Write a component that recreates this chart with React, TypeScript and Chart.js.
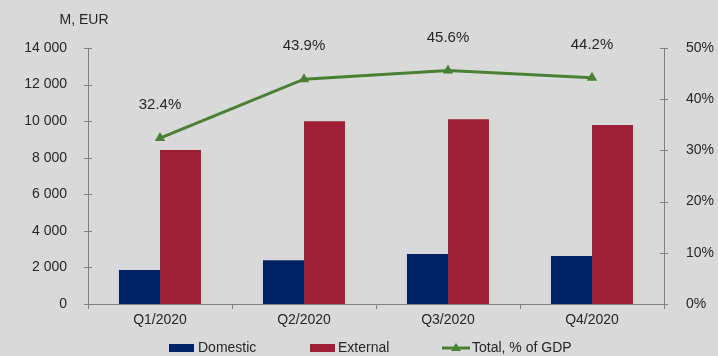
import React, { useEffect, useRef } from "react";
import { Chart, registerables } from "chart.js";

Chart.register(...registerables);

const categories = ["Q1/2020", "Q2/2020", "Q3/2020", "Q4/2020"];
const domestic = [1860, 2390, 2730, 2620];
const external = [8420, 10000, 10110, 9790];
const totalPctGdp = [32.4, 43.9, 45.6, 44.2];
const leftTicks = [0, 2000, 4000, 6000, 8000, 10000, 12000, 14000];
const rightTicks = [0, 10, 20, 30, 40, 50];

const FONT = "'Liberation Sans', Arial, sans-serif";
const TEXT = "#262626";
const AXIS = "#808080";
const NAVY = "#022266";
const CRIMSON = "#9d2036";
const GREEN = "#4a8033";

const fmt = (v: number) => String(v).replace(/\B(?=(\d{3})+(?!\d))/g, " ");

const extras = {
  id: "extras",
  afterDraw(chart: any) {
    const ctx = chart.ctx;
    const y = chart.scales.y;
    const y1 = chart.scales.y1;
    ctx.save();
    ctx.strokeStyle = AXIS;
    ctx.lineWidth = 1;
    for (const v of leftTicks) {
      const py = Math.round(y.getPixelForValue(v)) + 0.5;
      ctx.beginPath();
      ctx.moveTo(y.right - 4, py);
      ctx.lineTo(y.right + 4, py);
      ctx.stroke();
    }
    for (const v of rightTicks) {
      const py = Math.round(y1.getPixelForValue(v)) + 0.5;
      ctx.beginPath();
      ctx.moveTo(y1.left - 4, py);
      ctx.lineTo(y1.left + 4, py);
      ctx.stroke();
    }
    ctx.fillStyle = TEXT;
    ctx.font = `14px ${FONT}`;
    ctx.textAlign = "center";
    ctx.textBaseline = "middle";
    ctx.fillText("M, EUR", 84, 20);
    const meta = chart.getDatasetMeta(2);
    ctx.font = `15px ${FONT}`;
    meta.data.forEach((pt: any, i: number) => {
      ctx.fillText(totalPctGdp[i].toFixed(1) + "%", pt.x, pt.y - 33);
    });
    const ly = 348;
    ctx.font = `14px ${FONT}`;
    ctx.textAlign = "left";
    ctx.fillStyle = NAVY;
    ctx.fillRect(169, ly - 4, 25, 8);
    ctx.fillStyle = TEXT;
    ctx.fillText("Domestic", 198, ly);
    ctx.fillStyle = CRIMSON;
    ctx.fillRect(310, ly - 4, 25, 8);
    ctx.fillStyle = TEXT;
    ctx.fillText("External", 338, ly);
    ctx.strokeStyle = GREEN;
    ctx.lineWidth = 3;
    ctx.beginPath();
    ctx.moveTo(442, ly);
    ctx.lineTo(470, ly);
    ctx.stroke();
    ctx.fillStyle = GREEN;
    ctx.beginPath();
    ctx.moveTo(456, ly - 5);
    ctx.lineTo(461, ly + 3);
    ctx.lineTo(451, ly + 3);
    ctx.closePath();
    ctx.fill();
    ctx.fillStyle = TEXT;
    ctx.fillText("Total, % of GDP", 472, ly);
    ctx.restore();
  },
};

export default function App() {
  const ref = useRef<HTMLCanvasElement>(null);
  useEffect(() => {
    if (!ref.current) return;
    const chart = new Chart(ref.current, {
      type: "bar",
      data: {
        labels: categories,
        datasets: [
          {
            label: "Domestic",
            data: domestic,
            backgroundColor: NAVY,
            yAxisID: "y",
            order: 2,
            barPercentage: 1,
            categoryPercentage: 0.57,
          },
          {
            label: "External",
            data: external,
            backgroundColor: CRIMSON,
            yAxisID: "y",
            order: 2,
            barPercentage: 1,
            categoryPercentage: 0.57,
          },
          {
            type: "line",
            label: "Total, % of GDP",
            data: totalPctGdp,
            borderColor: GREEN,
            backgroundColor: GREEN,
            borderWidth: 3,
            pointStyle: "triangle",
            pointRadius: 6,
            pointBorderWidth: 0,
            yAxisID: "y1",
            order: 1,
          } as any,
        ],
      },
      options: {
        animation: false,
        responsive: false,
        maintainAspectRatio: false,
        layout: { padding: { top: 48, left: 0, right: 0, bottom: 0 } },
        plugins: { legend: { display: false }, tooltip: { enabled: false } },
        scales: {
          x: {
            offset: true,
            grid: {
              offset: true,
              drawOnChartArea: false,
              tickLength: 5,
              color: AXIS,
            },
            border: { color: AXIS, width: 1 },
            ticks: { color: TEXT, font: { family: FONT, size: 14 }, padding: 3 },
            afterFit: (s: any) => {
              s.height = 52;
            },
          },
          y: {
            position: "left",
            min: 0,
            max: 14000,
            afterBuildTicks: (s: any) => {
              s.ticks = leftTicks.map((v) => ({ value: v }));
            },
            grid: { display: false },
            border: { color: AXIS, width: 1 },
            ticks: {
              color: TEXT,
              font: { family: FONT, size: 14 },
              padding: 13,
              callback: (v: any) => fmt(Number(v)),
            },
            afterFit: (s: any) => {
              s.width = 88;
            },
          },
          y1: {
            position: "right",
            min: 0,
            max: 50,
            afterBuildTicks: (s: any) => {
              s.ticks = rightTicks.map((v) => ({ value: v }));
            },
            grid: { display: false },
            border: { color: AXIS, width: 1 },
            ticks: {
              color: TEXT,
              font: { family: FONT, size: 14 },
              padding: 14,
              callback: (v: any) => v + "%",
            },
            afterFit: (s: any) => {
              s.width = 54;
            },
          },
        },
      },
      plugins: [extras],
    });
    return () => chart.destroy();
  }, []);
  return (
    <div style={{ position: "fixed", left: 0, top: 0, width: 718, height: 356, background: "#d9d9d9" }}>
      <canvas ref={ref} width={718} height={356} style={{ display: "block" }} />
    </div>
  );
}
